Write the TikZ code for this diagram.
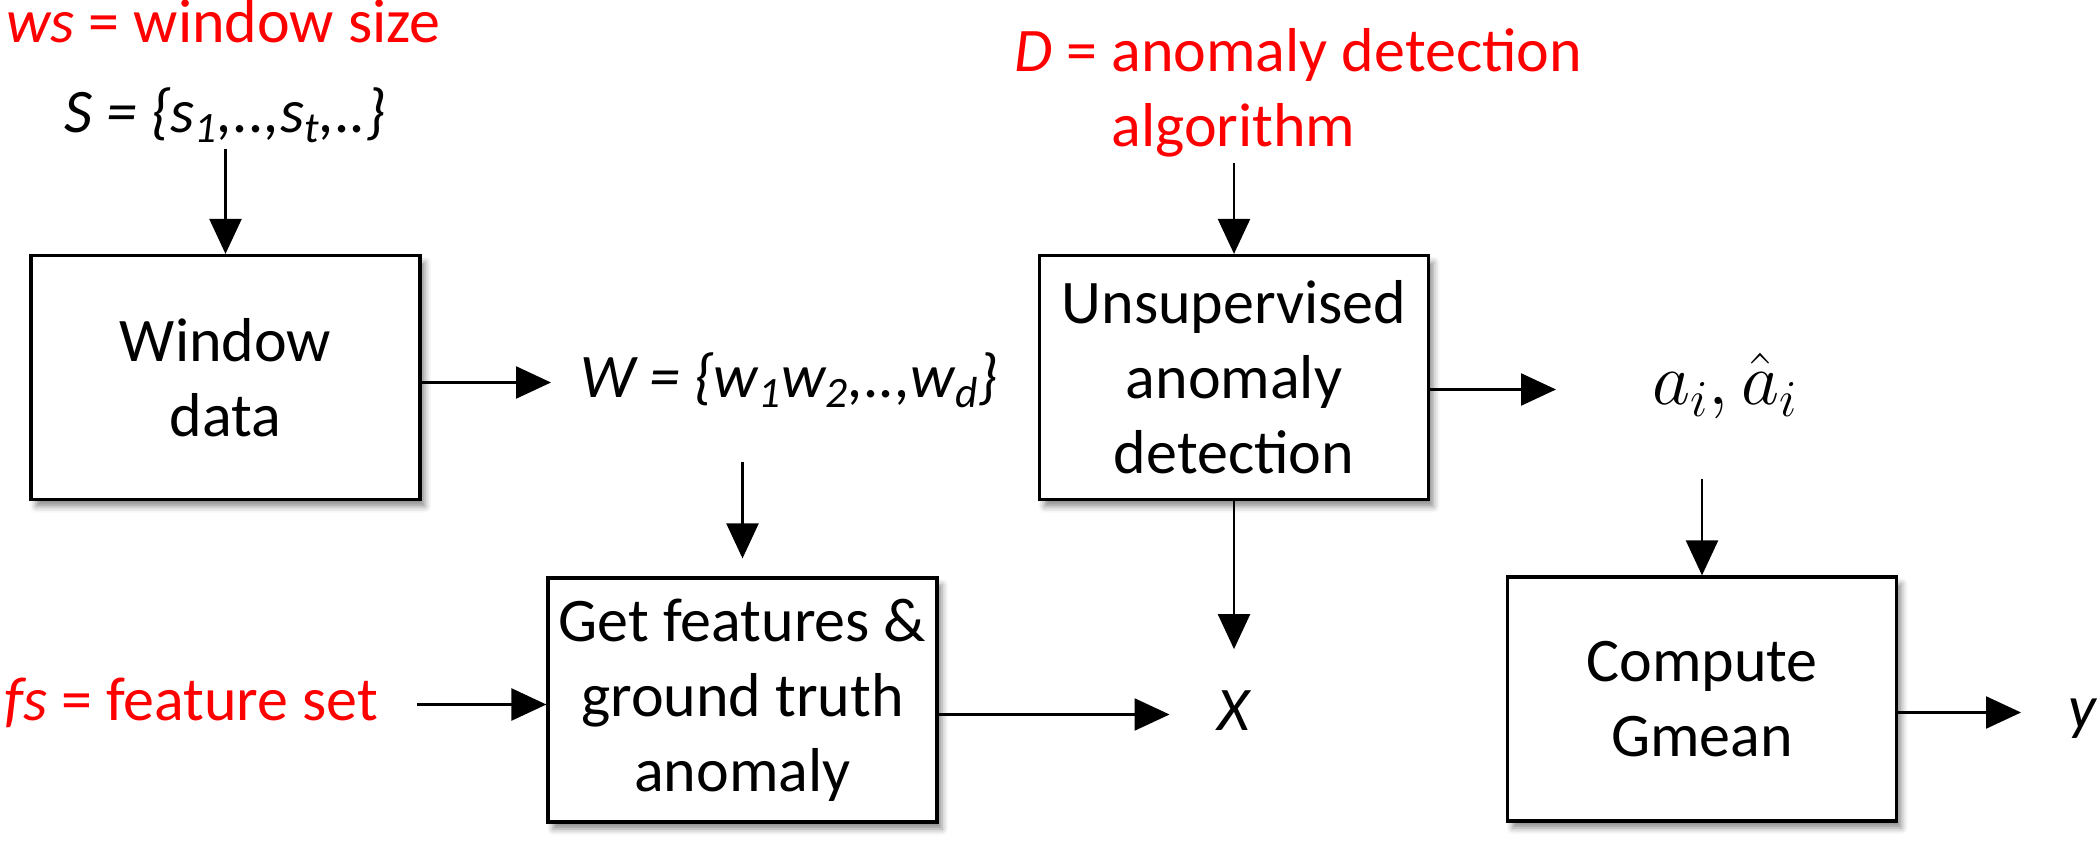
\RequirePackage{fix-cm}
\documentclass[tikz,border=0pt]{standalone}
\usepackage{fontspec}
\setmainfont{Carlito}
\usetikzlibrary{arrows.meta,shadows.blur}
\begin{document}
\begin{tikzpicture}[x=0.5pt,y=-0.5pt,
  txt/.style={font=\fontsize{31}{37.5}\selectfont},
  lbl/.style={txt, inner sep=0pt, text height=23.25pt, text depth=7.75pt, anchor=base west},
  redlbl/.style={lbl, text=red},
  box/.style={txt, draw, line width=1.6pt, fill=white, align=center,
    minimum width=194.5pt, minimum height=122pt, inner sep=0pt,
    blur shadow={shadow xshift=2.5pt, shadow yshift=-3.5pt, shadow blur radius=3pt, shadow opacity=45}},
  arr/.style={line width=1.2pt, -{Triangle[length=17.5pt,width=16pt]}},
]
\useasboundingbox (0,0) rectangle (2100,844);

% labels
\node[redlbl] (ws) at (6,43) {\textit{ws} = window size};
\node[lbl] (S) at (64,133) {\itshape S = \{s\textsubscript{1},..,s\textsubscript{t},..\}};
\node[lbl] (W) at (580,398) {\itshape W = \{w\textsubscript{1}w\textsubscript{2},..,w\textsubscript{d}\}};
\node[redlbl] (fs) at (4,720) {\textit{fs} = feature set};
\node[redlbl] (D1) at (1014,72) {\textit{D} = anomaly detection};
\node[redlbl] (D2) at (1111,147) {algorithm};
\node[lbl, anchor=base] (X) at (1234,730) {\itshape X};
\node[lbl, font=\fontsize{37}{44}\selectfont] (a) at (1652,405) {$a_i,\hat{a}_i$};
\node[lbl] (y) at (2068,728) {\itshape y};

% boxes
\node[box] (win) at (225.5,377.5) {Window\\data};
\node[box] (get) at (742.5,700) {Get features \&\\ground truth\\anomaly};
\node[box] (uns) at (1234,377.5) {Unsupervised\\anomaly\\detection};
\node[box] (cmp) at (1702,699) {Compute\\Gmean};

% connectors
\draw[arr] (S.south -| win.north) -- (win.north);
\draw[arr] (D2.south -| uns.north) -- (uns.north);
\draw[arr, shorten >=14.5pt] (win.east |- W.west) -- (W.west);
\draw[arr, shorten <=24pt, shorten >=9pt] (W.south -| get.north) -- (get.north);
\draw[arr, shorten <=19.5pt] (fs.east) -- (fs.east -| get.west);
\draw[arr, shorten >=24pt] (get.east |- X.west) -- (X.west);
\draw[arr, shorten >=17pt] (uns.south) -- (uns.south |- X.north);
\draw[arr, shorten >=48pt] (uns.east |- a.west) -- (a.west);
\draw[arr, shorten <=29pt] (a.south -| cmp.north) -- (cmp.north);
\draw[arr, shorten >=23.5pt] (cmp.east |- y.west) -- (y.west);
\end{tikzpicture}
\end{document}
